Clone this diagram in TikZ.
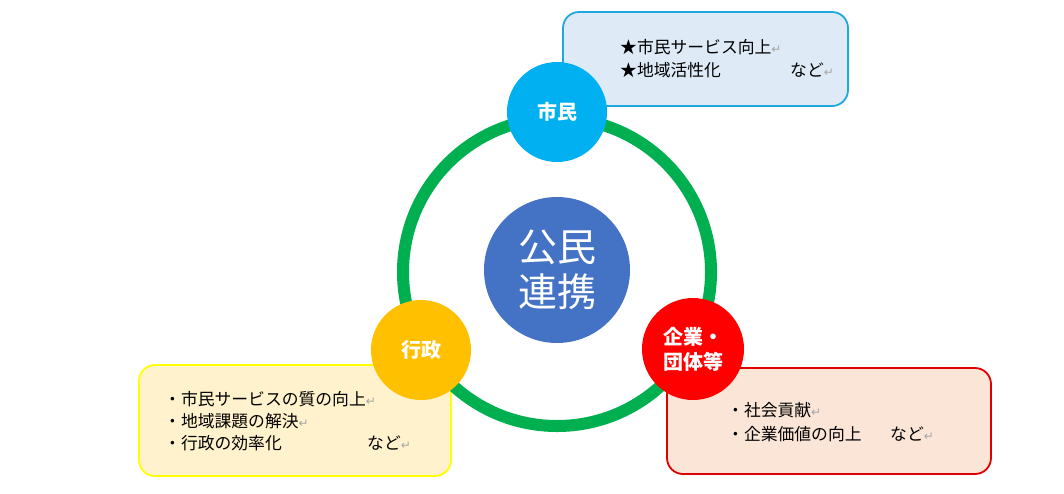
\documentclass[tikz,border=0pt]{standalone}
\usepackage{fontspec}
\newfontfamily\cjk{Noto Sans CJK JP}
\newfontfamily\dv{DejaVu Sans}
\definecolor{ringgreen}{HTML}{00B050}
\definecolor{hubblue}{HTML}{4472C4}
\definecolor{citycyan}{HTML}{00B0F0}
\definecolor{govorange}{HTML}{FFC000}
\definecolor{corpred}{HTML}{FF0000}
\definecolor{topfill}{HTML}{DEEBF7}
\definecolor{topline}{HTML}{1FA8E0}
\definecolor{leftfill}{HTML}{FFF2CC}
\definecolor{leftline}{HTML}{FFFF00}
\definecolor{rightfill}{HTML}{FBE5D6}
\definecolor{rightline}{HTML}{E00000}
\newcommand{\rmark}{{\dv\fontsize{12}{12}\selectfont\color{gray!70}↵}}
\tikzset{
  infobox/.style={rounded corners=16pt, line width=1.8pt},
  actor/.style={circle, inner sep=0pt, minimum size=100pt, text=white,
    font=\cjk\bfseries\fontsize{20}{25}\selectfont, align=center},
  line/.style={anchor=west, inner sep=0pt, font=\cjk\fontsize{16.8}{22}\selectfont},
}
\begin{document}
\begin{tikzpicture}[x=1pt,y=-1pt]
\useasboundingbox (0,0) rectangle (1064,493);
% boxes
\draw[infobox, draw=topline, fill=topfill] (563,12) rectangle (848,106);
\draw[infobox, draw=leftline, fill=leftfill] (139,365) rectangle (451,476);
\draw[infobox, draw=rightline, fill=rightfill] (667,368) rectangle (991,474);
% ring
\coordinate (c) at (557,272);
\draw[ringgreen, line width=12pt] (c) circle[radius=154pt];
% hub
\node[circle, fill=hubblue, minimum size=146pt, inner sep=0pt, text=white,
  font=\cjk\fontsize{39}{45}\selectfont, align=center] (hub) at (557,270) {公民\\連携};
% actors
\node[actor, fill=citycyan] (city) at (557,112) {市民};
\node[actor, fill=govorange] (gov) at (421,350) {行政};
\node[actor, fill=corpred, minimum size=102pt] (corp) at (693,349) {企業・\\団体等};
% top box text
\node[line] (t1) at (620,47) {★市民サービス向上\rmark};
\node[line] (t2) at (620,70) {★地域活性化};
\node[line] (t3) at (790,70) {など\rmark};
% left box text
\node[line] (l1) at (164,399) {・市民サービスの質の向上\rmark};
\node[line] (l2) at (164,421) {・地域課題の解決\rmark};
\node[line] (l3) at (164,443) {・行政の効率化};
\node[line] (l4) at (367,443) {など\rmark};
% right box text
\node[line] (r1) at (727,410) {・社会貢献\rmark};
\node[line] (r2) at (727,434) {・企業価値の向上};
\node[line] (r3) at (890,434) {など\rmark};
\end{tikzpicture}
\end{document}
